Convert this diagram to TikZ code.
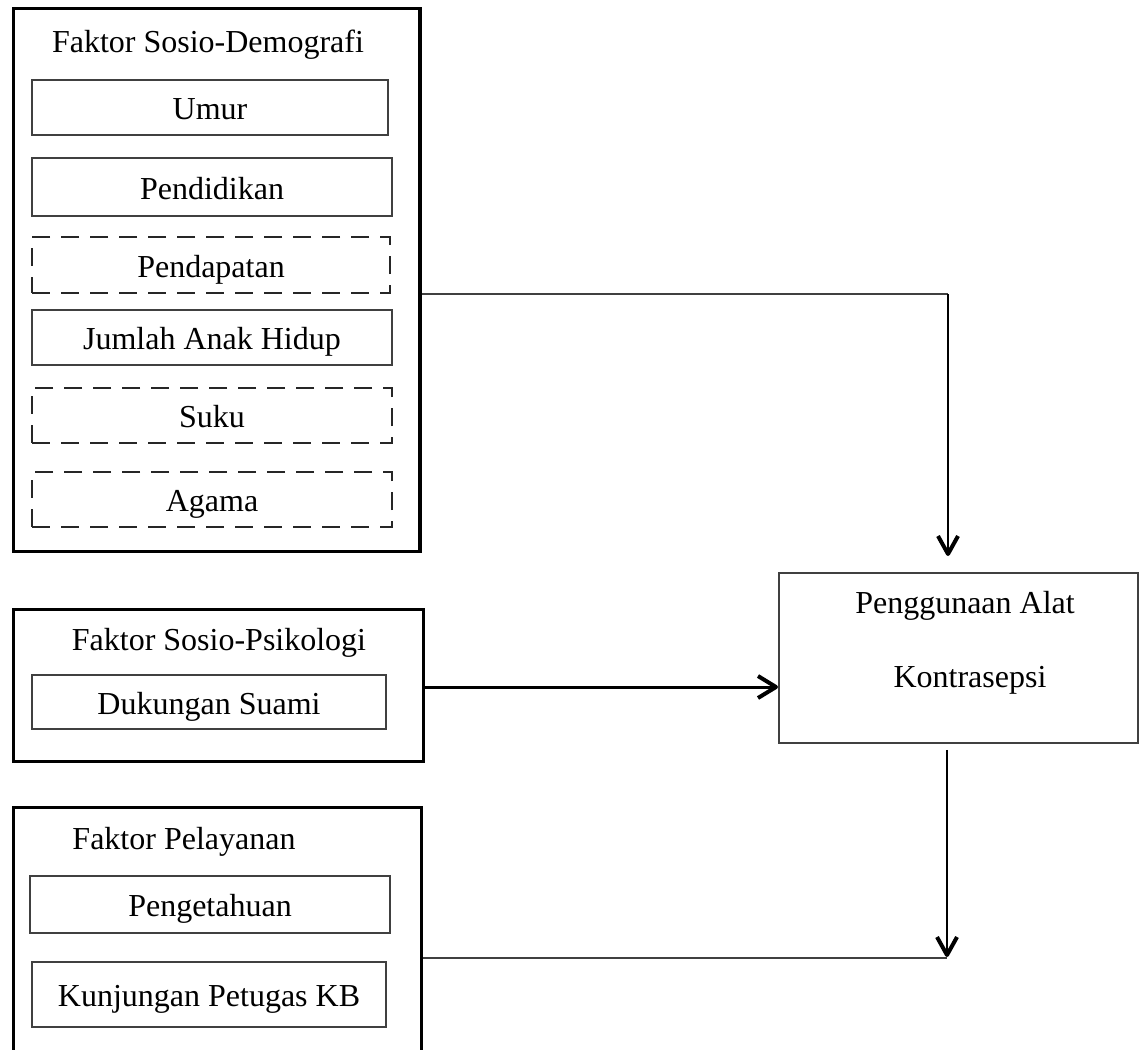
\documentclass[tikz,border=0pt]{standalone}
\usepackage{fontspec}
\setmainfont{Liberation Serif}
\begin{document}
\begin{tikzpicture}[x=0.5pt,y=-0.5pt,
  every node/.style={font=\fontsize{16}{19}\selectfont},
  outerbox/.style={draw=black, line width=1.75pt, rectangle, inner sep=0pt},
  ibox/.style={draw=black!75, line width=0.8pt, rectangle, inner sep=0pt, text height=12pt, text depth=0pt},
  dbox/.style={ibox, draw=black!85, line width=0.9pt, dash pattern=on 9pt off 5.5pt},
  titletext/.style={anchor=base, inner sep=0pt},
  cline/.style={draw=black!75, line width=0.75pt},
  vline/.style={draw=black, line width=1pt},
  mline/.style={draw=black, line width=1.5pt},
  chevron/.style={draw=black, line width=2pt, line join=round, line cap=butt}]
\useasboundingbox (0,0) rectangle (1143,1049);
\fill[white] (0,0) rectangle (1143,1049);
\clip (0,0) rectangle (1143,1049);

% Faktor Sosio-Demografi
\node[outerbox, minimum width=203.25pt, minimum height=271.5pt] (sd) at (216.75,280) {};
\node[titletext] (sdt) at (208,52) {Faktor Sosio-Demografi};
\node[ibox, minimum width=178pt, minimum height=27.5pt] (umur) at (210,107.5) {Umur};
\node[ibox, minimum width=180pt, minimum height=29pt] (pend) at (212,187) {Pendidikan};
\node[dbox, minimum width=179pt, minimum height=28pt] (pdpt) at (211,265) {Pendapatan};
\node[ibox, minimum width=180pt, minimum height=27.5pt] (jah) at (212,337.5) {Jumlah Anak Hidup};
\node[dbox, minimum width=180pt, minimum height=27.5pt] (suku) at (212,415.5) {Suku};
\node[dbox, minimum width=180pt, minimum height=27.5pt] (agama) at (212,499.5) {Agama};

% Faktor Sosio-Psikologi
\node[outerbox, minimum width=205pt, minimum height=76pt] (sp) at (218.5,685.5) {};
\node[titletext] (spt) at (219,650) {Faktor Sosio-Psikologi};
\node[ibox, minimum width=177pt, minimum height=27pt] (duk) at (209,702) {Dukungan Suami};

% Faktor Pelayanan
\node[outerbox, minimum width=204pt, minimum height=150pt] (pl) at (217.5,957.5) {};
\node[titletext] (plt) at (184,849) {Faktor Pelayanan};
\node[ibox, minimum width=180pt, minimum height=28.5pt] (peng) at (210,904.5) {Pengetahuan};
\node[ibox, minimum width=177pt, minimum height=32.5pt] (kunj) at (209,994.5) {Kunjungan Petugas KB};

% Penggunaan Alat Kontrasepsi
\node[ibox, minimum width=179.5pt, minimum height=85pt] (out) at (958.5,658) {};
\node[titletext] (outa) at (965,613) {Penggunaan Alat};
\node[titletext] (outb) at (970,687) {Kontrasepsi};

% connectors
\coordinate (k1) at (948,294);
\coordinate (t1) at (948,554);
\draw[cline] (sd.east |- k1) -- (k1);
\draw[vline] (k1) -- (t1);
\draw[chevron] ([shift={(-10,-18)}]t1) -- (t1) -- ([shift={(10,-18)}]t1);

\coordinate (m) at (0,687);
\coordinate (t2) at (776,687);
\draw[mline] (sp.east |- m) -- (t2);
\draw[chevron] ([shift={(-18,-11)}]t2) -- (t2) -- ([shift={(-18,11)}]t2);

\coordinate (k3) at (947,958);
\coordinate (t3) at (947,955);
\draw[vline, shorten <=3pt] (out.south -| k3) -- (t3);
\draw[chevron] ([shift={(-10,-18)}]t3) -- (t3) -- ([shift={(10,-18)}]t3);
\draw[cline] (pl.east |- k3) -- (k3);
\end{tikzpicture}
\end{document}
